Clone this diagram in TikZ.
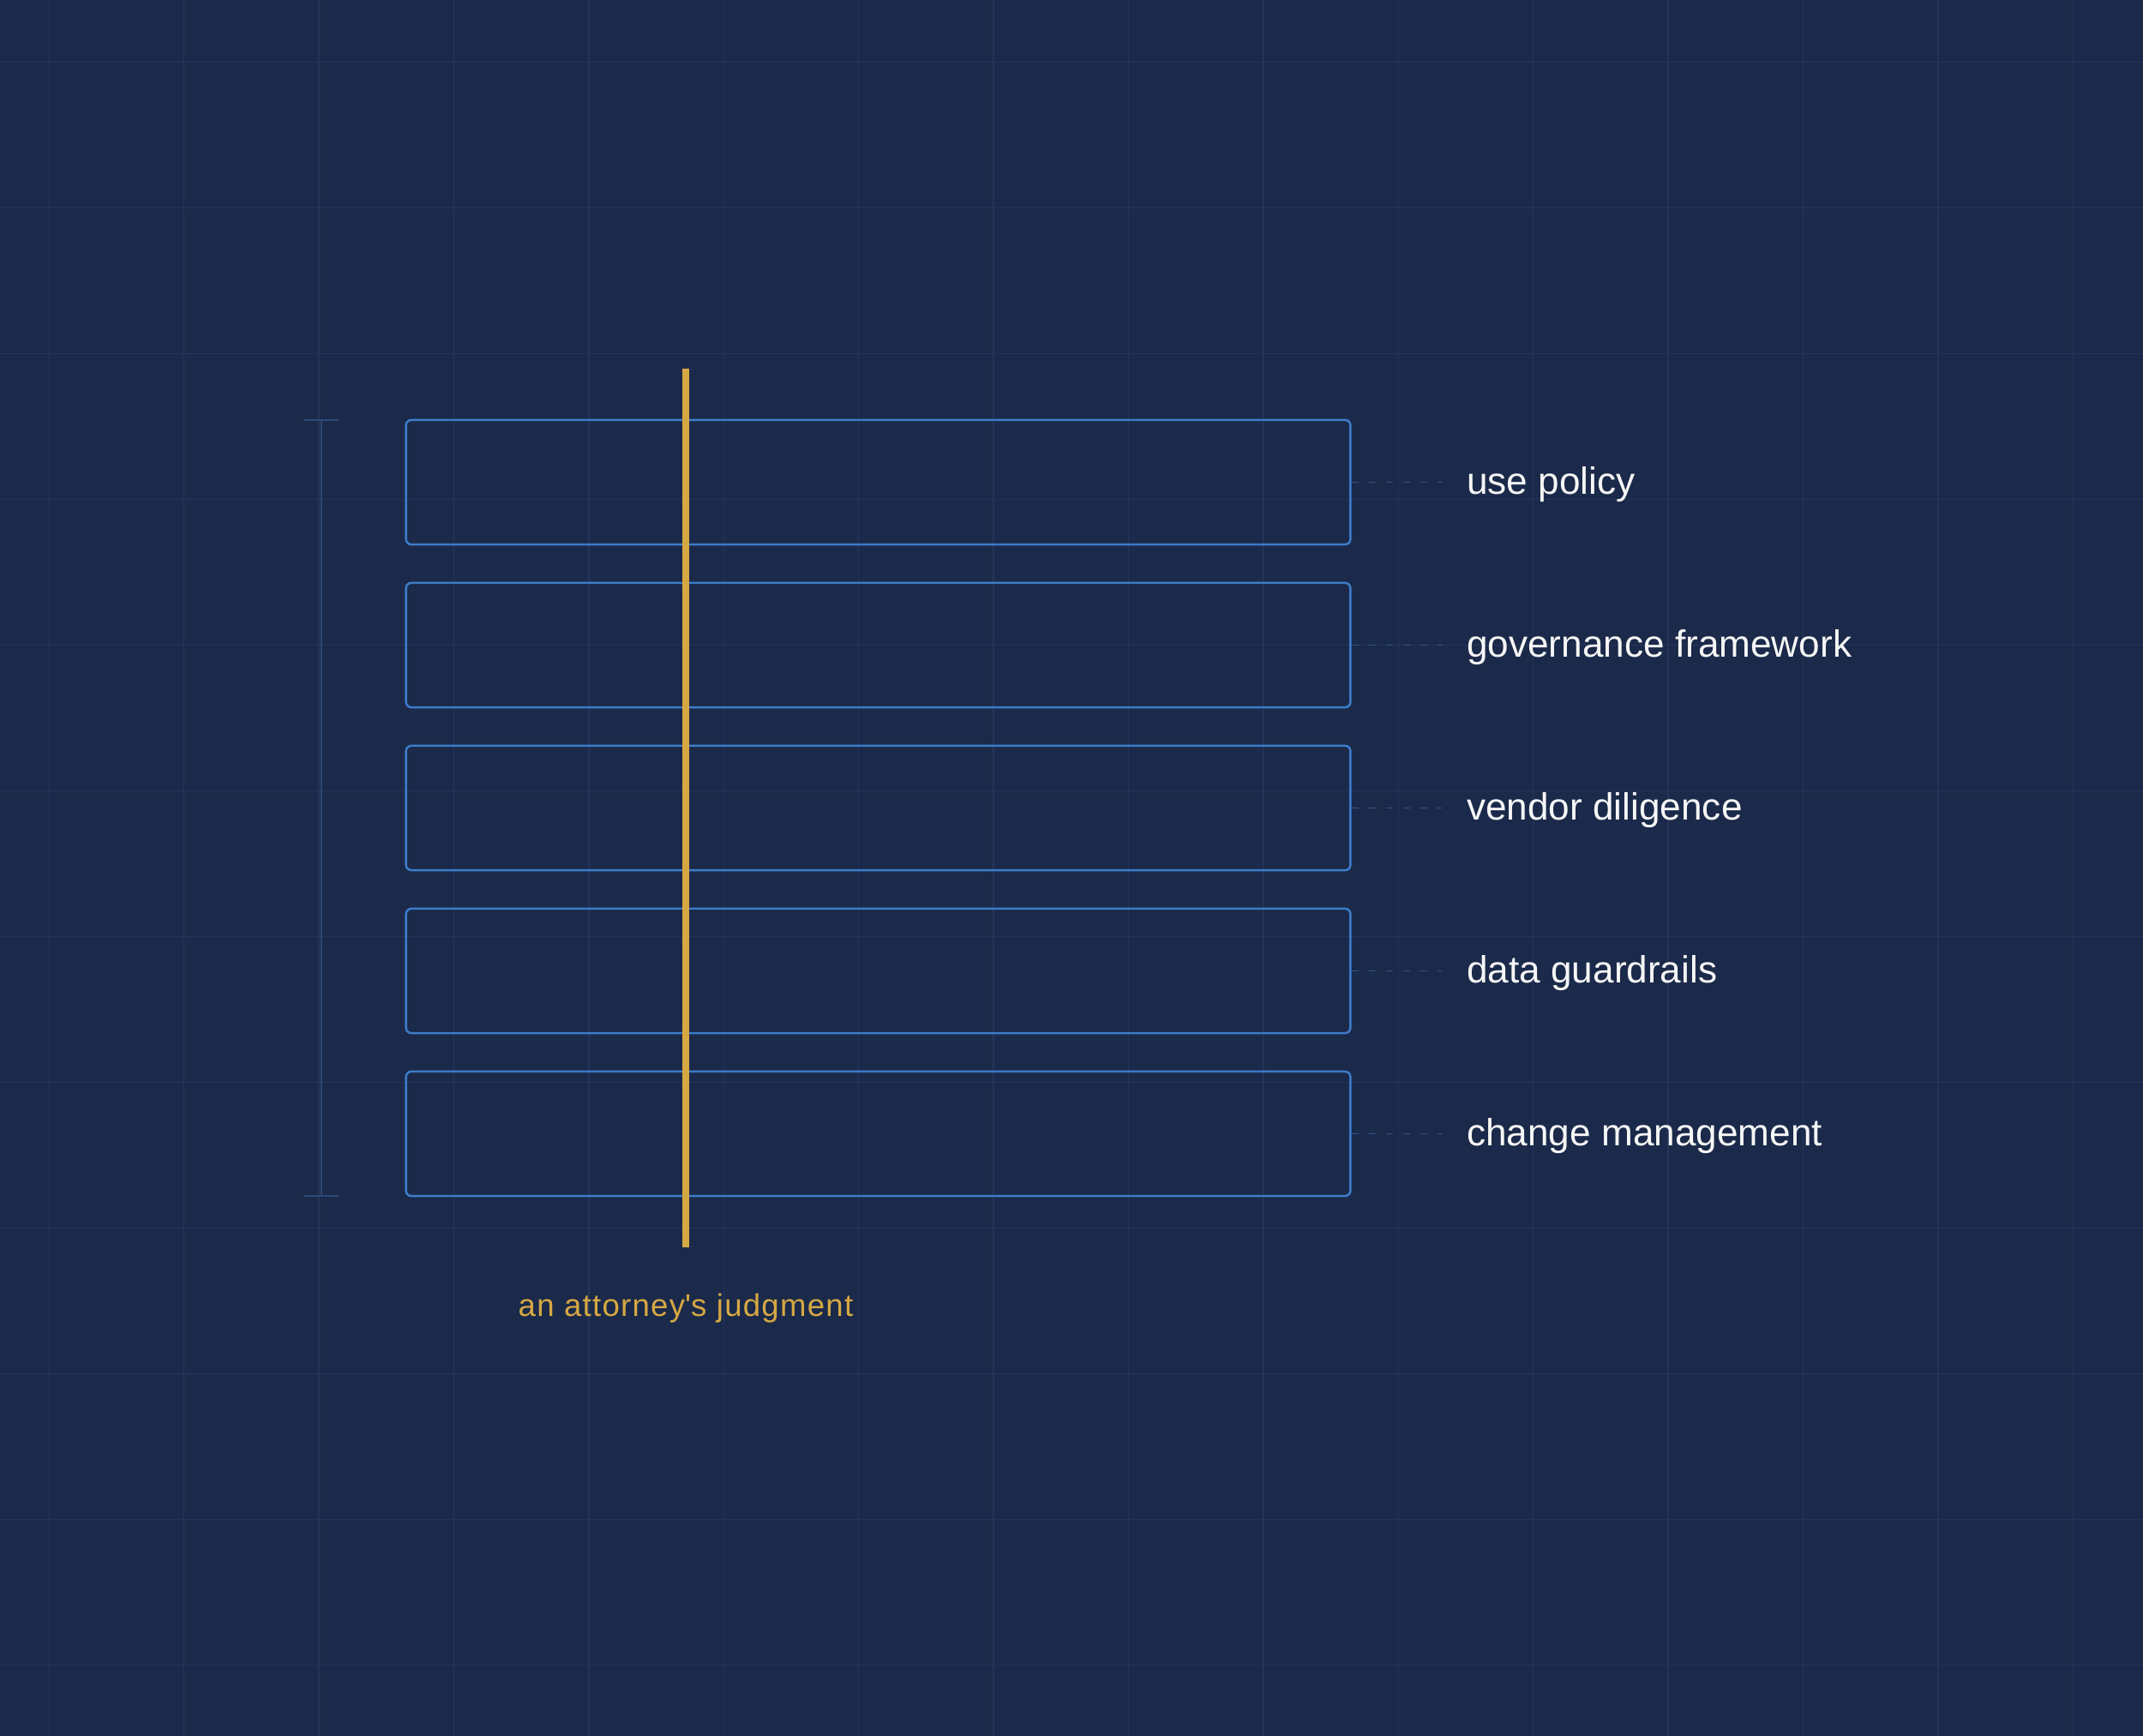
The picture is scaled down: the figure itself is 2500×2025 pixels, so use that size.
\documentclass[tikz,border=0pt]{standalone}
\usepackage{fontspec}
\setmainfont{Liberation Sans}
\newfontfamily\trackfont[LetterSpace=3.5]{Liberation Sans}
\usetikzlibrary{positioning,calc}

\definecolor{bgnavy}{HTML}{1B2A4A}
\definecolor{gridnavy}{HTML}{24355A}
\definecolor{boxblue}{HTML}{3D7CC9}
\definecolor{gold}{HTML}{D6A843}
\definecolor{dimblue}{HTML}{2E4874}
\definecolor{dashblue}{HTML}{34548A}
\definecolor{offwhite}{HTML}{F6F6F6}

\begin{document}
\begin{tikzpicture}[x=0.01cm, y=-0.01cm,
    band/.style={rectangle, draw=boxblue, line width=0.71pt, minimum width=11.01cm, minimum height=1.45cm, rounded corners=0.06cm, inner sep=0pt},
    tag/.style={anchor=base west, inner sep=0pt, text=offwhite, font=\fontsize{12.55pt}{14pt}\selectfont},
    lead/.style={draw=dashblue, line width=0.4pt, dash pattern=on 0.08cm off 0.12cm},
    gridline/.style={draw=gridnavy, line width=0.43pt},
    beam/.style={draw=gold, line width=2pt}
]

% Background and grid
\fill[bgnavy] (0,0) rectangle (2500,2025);
\useasboundingbox (0,0) rectangle (2500,2025);
\foreach \gx in {0,...,15} \draw[gridline] ({57.3+157.4*\gx},0) -- ({57.3+157.4*\gx},2025);
\foreach \gy in {0,...,11} \draw[gridline] (0,{72.3+170*\gy}) -- (2500,{72.3+170*\gy});

% Side bracket
\draw[dimblue, line width=0.57pt] (355,490) -- (395,490) (375,490) -- (375,1395) (355,1395) -- (395,1395);

% Layers
\node[band] (usepol) at (1024.5,562.5) {};
\node[band] (gov) at (1024.5,752.5) {};
\node[band] (vendor) at (1024.5,942.5) {};
\node[band] (data) at (1024.5,1132.5) {};
\node[band] (change) at (1024.5,1322.5) {};

% Layer names
\node[tag] (usepoltxt) at ($(usepol.east)+(134,14)$) {use policy};
\node[tag] (govtxt) at ($(gov.east)+(134,14)$) {governance framework};
\node[tag] (vendortxt) at ($(vendor.east)+(134,14)$) {vendor diligence};
\node[tag] (datatxt) at ($(data.east)+(134,14)$) {data guardrails};
\node[tag] (changetxt) at ($(change.east)+(134,14)$) {change management};

% Leaders
\draw[lead] (usepol.east) -- ($(usepol.east -| usepoltxt.west)+(-29,0)$);
\draw[lead] (gov.east) -- ($(gov.east -| govtxt.west)+(-29,0)$);
\draw[lead] (vendor.east) -- ($(vendor.east -| vendortxt.west)+(-29,0)$);
\draw[lead] (data.east) -- ($(data.east -| datatxt.west)+(-29,0)$);
\draw[lead] (change.east) -- ($(change.east -| changetxt.west)+(-29,0)$);

% Judgment line
\coordinate (beamtop) at (800,430);
\coordinate (beambot) at (800,1455);
\draw[beam] (beamtop) -- (beambot);
\node[anchor=base, inner sep=0pt, text=gold, font=\trackfont\fontsize{10.4pt}{12pt}\selectfont] (judg) at (800,1535) {an attorney\textquotesingle s judgment};

\end{tikzpicture}
\end{document}
